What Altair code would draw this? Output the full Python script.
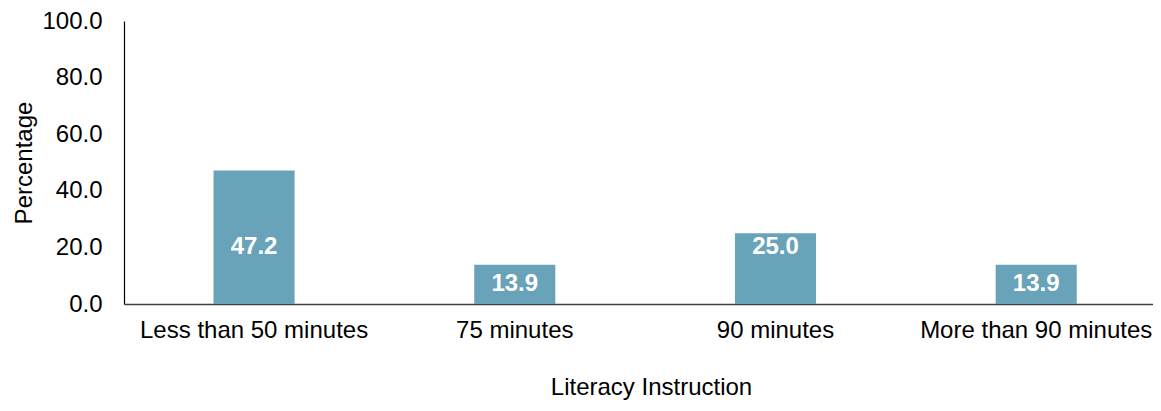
import altair as alt
import pandas as pd

categories = ["Less than 50 minutes", "75 minutes", "90 minutes", "More than 90 minutes"]
values = [47.2, 13.9, 25.0, 13.9]

df = pd.DataFrame({"cat": categories, "val": values})
df["label"] = df["val"].map(lambda v: f"{v:.1f}")

font = "Liberation Sans"
fs = 24

base = alt.Chart(df).encode(
    x=alt.X("cat:N", sort=categories, title="Literacy Instruction",
            scale=alt.Scale(paddingInner=0.689, paddingOuter=0.318, align=0.54),
            axis=alt.Axis(labelAngle=0, labelFontSize=fs, labelFont=font, labelColor="#000000",
                          labelLimit=0,
                          titleFontSize=fs, titleFont=font, titleFontWeight="normal", titleColor="#000000",
                          titleX=527, titleAlign="center",
                          ticks=False, domainColor="#404040", domainWidth=1.5,
                          labelPadding=14, titlePadding=33)),
)

bars = base.mark_bar(color="#69a3b9").encode(
    y=alt.Y("val:Q", title="Percentage",
            scale=alt.Scale(domain=[0, 100]),
            axis=alt.Axis(values=[0, 20, 40, 60, 80, 100], format=".1f", grid=False, ticks=False,
                          labelFontSize=fs, labelFont=font, labelColor="#000000", labelPadding=22,
                          titleFontSize=fs, titleFont=font, titleFontWeight="normal", titleColor="#000000",
                          titlePadding=5, domainColor="#000000", domainWidth=1.2))
)

text = base.mark_text(color="white", fontWeight="bold", fontSize=24, font=font, baseline="middle").encode(
    y=alt.Y("mid:Q"),
    text="label:N",
).transform_calculate(mid="datum.val < 20 ? datum.val/2 : 20")

chart = (bars + text).properties(
    width=1029, height=283,
    padding={"left": 116, "top": 13, "right": 0, "bottom": 98},
    autosize=alt.AutoSizeParams(type="none"),
).configure_view(stroke=None)

chart.save("out.html", embed_options={"renderer": "svg", "actions": False})
